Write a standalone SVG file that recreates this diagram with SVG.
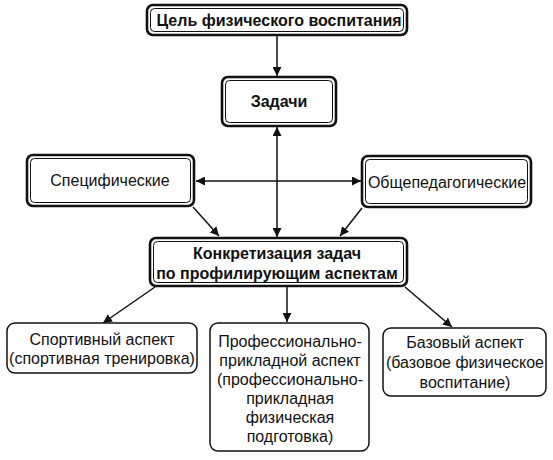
<svg xmlns="http://www.w3.org/2000/svg" width="553" height="460" viewBox="0 0 553 460">
<style>
.outer{fill:#fff;stroke:#111;stroke-width:2.6}
.inner{fill:none;stroke:#111;stroke-width:1}
.single{fill:#fff;stroke:#111;stroke-width:1.5}
.t{font-family:"Liberation Sans",Arial,sans-serif;font-size:16px;fill:#111;text-anchor:middle}
.b{font-weight:bold}
.ln{stroke:#111;stroke-width:1.5;fill:none}
</style>
<defs>
<marker id="ah" viewBox="0 0 10 10" refX="10" refY="5" markerWidth="9" markerHeight="9" markerUnits="userSpaceOnUse" orient="auto-start-reverse">
<path d="M0,0 L10,5 L0,10 z" fill="#111"/>
</marker>
</defs>
<rect width="553" height="460" fill="#fff"/>
<g id="connectors">
<line class="ln" x1="277" y1="36" x2="277" y2="76" marker-end="url(#ah)"/>
<line class="ln" x1="277" y1="127" x2="277" y2="237" marker-start="url(#ah)" marker-end="url(#ah)"/>
<line class="ln" x1="196" y1="181" x2="361" y2="181" marker-start="url(#ah)" marker-end="url(#ah)"/>
<line class="ln" x1="193" y1="207" x2="219" y2="236" marker-end="url(#ah)"/>
<line class="ln" x1="362" y1="208" x2="340" y2="236" marker-end="url(#ah)"/>
<line class="ln" x1="155" y1="287" x2="103" y2="323" marker-end="url(#ah)"/>
<line class="ln" x1="287" y1="287" x2="287" y2="322" marker-end="url(#ah)"/>
<line class="ln" x1="405" y1="287" x2="452" y2="327" marker-end="url(#ah)"/>
</g>
<g id="goal">
<rect class="outer" x="147" y="5" width="260" height="30" rx="6"/>
<rect class="inner" x="150.5" y="8.5" width="253" height="23" rx="4"/>
<text class="t b" x="279" y="26">Цель физического воспитания</text>
</g>
<g id="tasks">
<rect class="outer" x="222" y="77" width="114" height="49" rx="6"/>
<rect class="inner" x="225.5" y="80.5" width="107" height="42" rx="4"/>
<text class="t b" x="279" y="107">Задачи</text>
</g>
<g id="specific">
<rect class="outer" x="27" y="155" width="167" height="51" rx="6"/>
<rect class="inner" x="30.5" y="158.5" width="160" height="44" rx="4"/>
<text class="t" x="110" y="186">Специфические</text>
</g>
<g id="general">
<rect class="outer" x="362" y="156" width="169" height="51" rx="6"/>
<rect class="inner" x="365.5" y="159.5" width="162" height="44" rx="4"/>
<text class="t" x="447" y="188">Общепедагогические</text>
</g>
<g id="concretization">
<rect class="outer" x="150" y="238" width="257" height="48" rx="6"/>
<rect class="inner" x="153.5" y="241.5" width="250" height="41" rx="4"/>
<text class="t b" x="277" y="259">Конкретизация задач</text>
<text class="t b" x="277" y="279">по профилирующим аспектам</text>
</g>
<g id="sport">
<rect class="single" x="7" y="323" width="190" height="50" rx="8"/>
<text class="t" x="102" y="345">Спортивный аспект</text>
<text class="t" x="102" y="364">(спортивная тренировка)</text>
</g>
<g id="professional">
<rect class="single" x="210" y="323" width="159" height="128" rx="8"/>
<text class="t" x="290" y="347">Профессионально-</text>
<text class="t" x="290" y="366">прикладной аспект</text>
<text class="t" x="290" y="385">(профессионально-</text>
<text class="t" x="290" y="404">прикладная</text>
<text class="t" x="290" y="423">физическая</text>
<text class="t" x="290" y="442">подготовка)</text>
</g>
<g id="base">
<rect class="single" x="383" y="328" width="163" height="68" rx="8"/>
<text class="t" x="465" y="348">Базовый аспект</text>
<text class="t" x="465" y="368">(базовое физическое</text>
<text class="t" x="465" y="388">воспитание)</text>
</g>
</svg>
